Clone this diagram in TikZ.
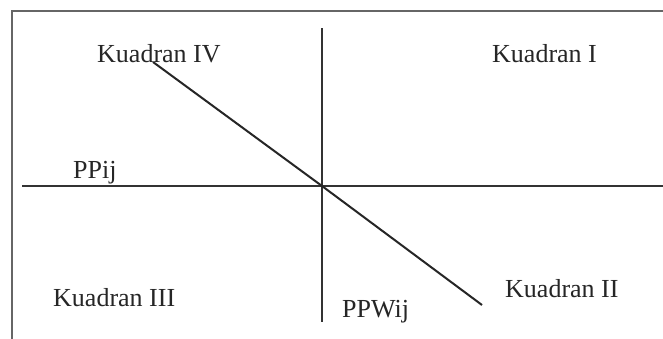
\documentclass[tikz,border=0pt]{standalone}
\usepackage{fontspec}
\setmainfont{Liberation Serif}
\begin{document}
\begin{tikzpicture}[x=1pt,y=-1pt,
  lbl/.style={anchor=base west,inner sep=0pt,text=black!85,font=\fontsize{26}{28}\selectfont},
  frameline/.style={draw=black!60,line width=2.4pt},
  axis/.style={draw=black!80,line width=2pt},
  diag/.style={draw=black!85,line width=2pt}]
\useasboundingbox (0,0) rectangle (663,338);
\clip (0,0) rectangle (663,338);
\fill[white] (0,0) rectangle (663,338);
% frame (right and bottom sides lie outside the picture)
\draw[frameline] (12,11) rectangle (690,360);
% coordinates
\coordinate (O) at (322,186);
\coordinate (hl) at (22,186);
\coordinate (hr) at (670,186);
\coordinate (vt) at (322,28);
\coordinate (vb) at (322,322);
\coordinate (dt) at (153,62);
\coordinate (db) at (482,305);
% axes
\draw[axis] (hl) -- (O) -- (hr);
\draw[axis] (vt) -- (O) -- (vb);
\draw[diag] (dt) -- (O) -- (db);
% labels
\node[lbl] (k4) at (97,62) {Kuadran IV};
\node[lbl] (k1) at (492,62) {Kuadran I};
\node[lbl] (pp) at (73,178) {PPij};
\node[lbl] (k3) at (53,306) {Kuadran III};
\node[lbl] (k2) at (505,297) {Kuadran II};
\node[lbl] (ppw) at (342,317) {PPWij};
\end{tikzpicture}
\end{document}
